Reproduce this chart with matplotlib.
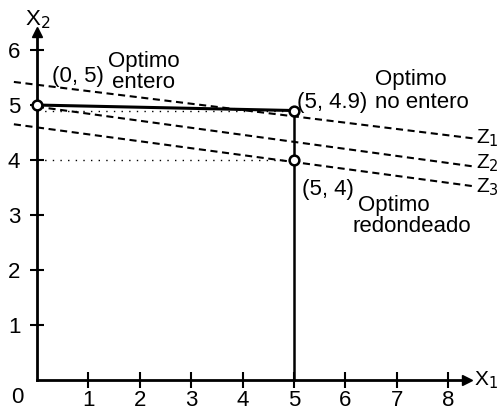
import matplotlib
matplotlib.use('Agg')
import matplotlib.pyplot as plt

plt.rcParams['font.family'] = ['Liberation Sans', 'DejaVu Sans']

# integer programming example: points and objective lines
x_ticks = [1, 2, 3, 4, 5, 6, 7, 8]
y_ticks = [1, 2, 3, 4, 5, 6]

opt_int = (0, 5)        # optimo entero
opt_cont = (5, 4.9)     # optimo no entero
opt_round = (5, 4)      # optimo redondeado

# iso-objective lines Z1, Z2, Z3 (end points)
z_names = ['Z$_1$', 'Z$_2$', 'Z$_3$']
z_x = [[-0.45, 8.52], [0.0, 8.52], [-0.45, 8.52]]
z_y = [[5.42, 4.39], [4.97, 3.88], [4.65, 3.52]]
z_label_y = [4.31, 3.85, 3.42]

fig = plt.figure(figsize=(5.0, 4.11), dpi=100)
ax = fig.add_axes([0, 0, 1, 1])
ax.set_xlim(-0.72, 9.01)
ax.set_ylim(-0.564, 6.91)

# axes through the origin
for side in ['top', 'right']:
    ax.spines[side].set_visible(False)
ax.spines['left'].set_position(('data', 0))
ax.spines['bottom'].set_position(('data', 0))
ax.spines['left'].set_bounds(0, 6.3)
ax.spines['bottom'].set_bounds(0, 8.35)
ax.spines['left'].set_linewidth(2)
ax.spines['bottom'].set_linewidth(2)
ax.plot([8.37], [0], marker='>', color='black', ms=7, clip_on=False)
ax.plot([0], [6.33], marker='^', color='black', ms=7, clip_on=False)

ax.set_xticks(x_ticks)
ax.set_yticks(y_ticks)
ax.tick_params(axis='x', direction='inout', length=12, width=1.5, pad=1, labelsize=16)
ax.tick_params(axis='y', direction='inout', length=10, width=1.5, pad=7, labelsize=16)
ax.text(-0.38, -0.12, '0', fontsize=16, ha='center', va='top')
ax.text(8.5, 0, 'X$_1$', fontsize=15, ha='left', va='center')
ax.text(0.02, 6.55, 'X$_2$', fontsize=16, ha='center', va='center')

# objective lines
for xs, ys, name, ly in zip(z_x, z_y, z_names, z_label_y):
    ax.plot(xs, ys, color='black', lw=1.5, dashes=(3.4, 2.2), clip_on=False)
    ax.text(8.55, ly, name, fontsize=15, ha='left', va='baseline')

# dotted guides
ax.plot([0, 5], [opt_cont[1], opt_cont[1]], color='black', lw=1, dashes=(1, 4.5))
ax.plot([0, 5], [opt_round[1], opt_round[1]], color='black', lw=1, dashes=(1, 4.5))

# solid edges of the feasible region
ax.plot([opt_int[0], opt_cont[0]], [opt_int[1], opt_cont[1]], color='black', lw=2.2)
ax.plot([5, 5], [0, opt_cont[1]], color='black', lw=1.8)

ax.plot([opt_int[0], opt_cont[0], opt_round[0]],
        [opt_int[1], opt_cont[1], opt_round[1]],
        'o', ms=7, mfc='white', mec='black', mew=1.8, zorder=5, clip_on=False)

# annotations
ax.text(0.29, 5.42, '(0, 5)', fontsize=16, va='baseline')
ax.text(1.38, 5.70, 'Optimo', fontsize=16, va='baseline')
ax.text(1.45, 5.31, 'entero', fontsize=16, va='baseline')
ax.text(5.06, 4.95, '(5, 4.9)', fontsize=16, va='baseline')
ax.text(6.58, 5.37, 'Optimo', fontsize=16, va='baseline')
ax.text(6.58, 4.95, 'no entero', fontsize=16, va='baseline')
ax.text(5.16, 3.36, '(5, 4)', fontsize=16, va='baseline')
ax.text(6.25, 3.07, 'Optimo', fontsize=16, va='baseline')
ax.text(6.13, 2.69, 'redondeado', fontsize=16, va='baseline')

fig.savefig('out.png', dpi=100)
